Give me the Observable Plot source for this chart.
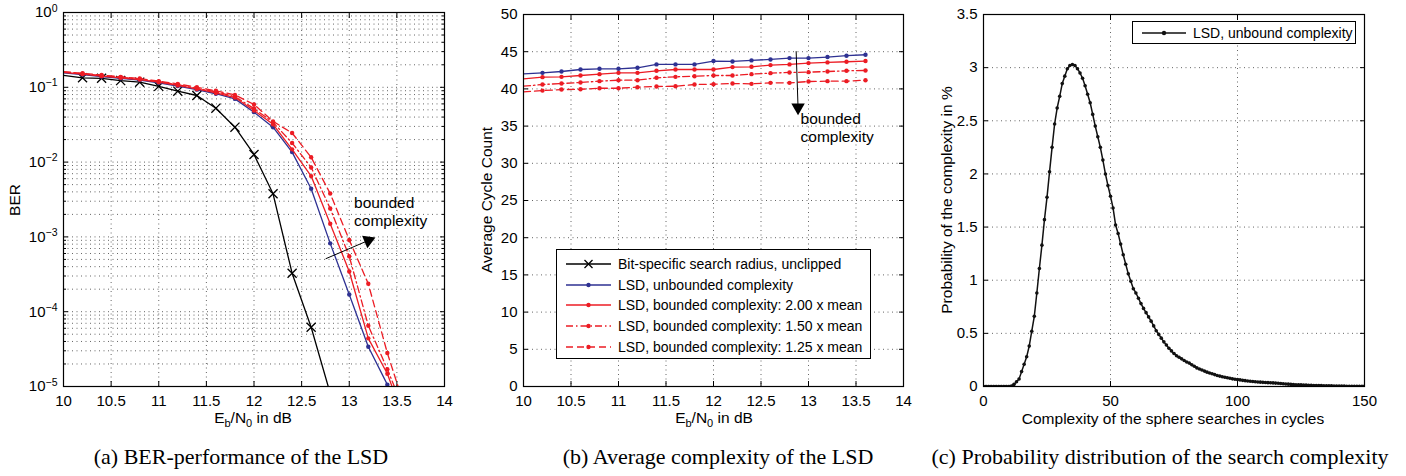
<!DOCTYPE html>
<html><head><meta charset="utf-8">
<script src="https://cdn.jsdelivr.net/npm/d3@7"></script>
<script src="https://cdn.jsdelivr.net/npm/@observablehq/plot@0.6"></script>
<style>
body{margin:0;background:#fff;}
#root{position:relative;width:1406px;height:476px;overflow:hidden;font-family:"Liberation Sans",Arial,sans-serif;color:#000;}
#root svg.plot{position:absolute;top:0;}
.cap{position:absolute;top:445px;font-family:"Liberation Serif","Times New Roman",serif;font-size:22px;line-height:22px;white-space:nowrap;transform:translateX(-50%);}
.lab{position:absolute;font-size:15.5px;line-height:18px;white-space:nowrap;transform:translate(-50%,-50%);}
.ylab{transform:translate(-50%,-50%) rotate(-90deg);}
.lab sub{font-size:11px;vertical-align:-4px;line-height:0;}
.legend{position:absolute;background:#fff;border:1px solid #000;box-sizing:border-box;font-size:14px;}
.legend .row{position:absolute;left:0;height:20px;display:flex;align-items:center;white-space:nowrap;}
.legend .row span{margin-left:7px;}
</style></head><body><div id="root"></div>
<script>
// ---------------- data ----------------
const ebn0 = [10.0,10.2,10.4,10.6,10.8,11.0,11.2,11.4,11.6,11.8,12.0,12.2,12.4,12.6,12.8,13.0,13.2,13.4,13.6];
const seriesNames = [
  "Bit-specific search radius, unclipped",
  "LSD, unbounded complexity",
  "LSD, bounded complexity: 2.00 x mean",
  "LSD, bounded complexity: 1.50 x mean",
  "LSD, bounded complexity: 1.25 x mean"
];
// (a) BER
const berBitSpecific = [0.144,0.134,0.132,0.123,0.117,0.103,0.0887,0.0777,0.0526,0.0293,0.01264,0.00377,3.27e-4,6.2e-5,8.1e-6];
const berUnbounded = [0.156,0.148,0.139,0.132,0.125,0.115,0.104,0.093,0.082,0.070,0.0465,0.0293,0.0136,0.0044,8.2e-4,1.7e-4,3.4e-5,1.06e-5,2.4e-6];
const ber200 = [0.158,0.150,0.141,0.134,0.127,0.117,0.106,0.095,0.084,0.073,0.049,0.032,0.0148,0.0065,0.0015,3.45e-4,4.4e-5,1.48e-5,3e-6];
const ber150 = [0.160,0.152,0.143,0.136,0.129,0.119,0.108,0.097,0.087,0.075,0.052,0.034,0.018,0.0085,0.0024,5.5e-4,6.5e-5,1.7e-5,4e-6];
const ber125 = [0.162,0.154,0.146,0.138,0.131,0.121,0.111,0.100,0.090,0.079,0.059,0.035,0.0245,0.0116,0.0038,9.1e-4,2.36e-4,2.8e-5,4.5e-6];
// (b) average cycle count
const cycUnbounded = [42.03,42.16,42.34,42.61,42.70,42.70,42.84,43.29,43.29,43.29,43.74,43.69,43.83,43.96,44.14,44.14,44.28,44.46,44.59];
const cyc200 = [41.35,41.58,41.62,41.80,41.98,42.16,42.16,42.43,42.61,42.61,42.61,42.93,42.97,43.20,43.29,43.47,43.56,43.65,43.74];
const cyc150 = [40.36,40.59,40.72,40.86,41.04,41.17,41.17,41.49,41.62,41.71,41.80,41.80,41.98,42.12,42.21,42.25,42.34,42.43,42.48];
const cyc125 = [39.59,39.77,39.91,39.95,40.09,40.09,40.23,40.32,40.36,40.59,40.63,40.72,40.68,40.81,40.81,40.99,41.04,41.04,41.17];
// (c) probability distribution (complexity 0..150 cycles)
const complexity = d3.range(0, 151);
const probability = [
0,0,0,0,0,0,0,0,0,0,
0,0.005,0.02,0.045,0.07,0.14,0.21,0.28,0.38,0.52,
0.66,0.88,1.11,1.33,1.57,1.78,2.02,2.25,2.47,2.62,
2.73,2.85,2.92,2.99,3.02,3.03,3.02,2.99,2.95,2.90,
2.83,2.75,2.67,2.56,2.45,2.35,2.25,2.13,2.00,1.89,
1.79,1.68,1.52,1.44,1.34,1.24,1.15,1.06,0.99,0.92,
0.88,0.83,0.78,0.735,0.695,0.655,0.615,0.57,0.525,0.49,
0.455,0.42,0.39,0.36,0.335,0.31,0.29,0.275,0.26,0.245,
0.23,0.22,0.205,0.19,0.175,0.165,0.155,0.145,0.135,0.127,
0.12,0.112,0.104,0.098,0.092,0.087,0.082,0.077,0.072,0.068,
0.065,0.062,0.058,0.055,0.052,0.049,0.047,0.045,0.043,0.041,
0.039,0.037,0.036,0.035,0.034,0.032,0.030,0.028,0.026,0.024,
0.022,0.020,0.019,0.017,0.016,0.015,0.014,0.013,0.012,0.011,
0.010,0.009,0.009,0.008,0.007,0.007,0.006,0.006,0.005,0.005,
0.004,0.004,0.004,0.003,0.003,0.003,0.003,0.002,0.002,0.002,
0.002];
// ticks
const ebn0Ticks = [10,10.5,11,11.5,12,12.5,13,13.5,14];
const berTicks = [1e-5,1e-4,1e-3,1e-2,1e-1,1];
const berMinor = d3.range(-5,0).flatMap(e => d3.range(2,10).map(m => +(m * 10 ** e).toPrecision(3)));
const cycleTicks = [0,5,10,15,20,25,30,35,40,45,50];
const complexityTicks = [0,50,100,150];
const probTicks = [0,0.5,1,1.5,2,2.5,3,3.5];
// annotations (data coordinates)
const arrowA = [{x1:12.752, y1:5.1e-4, x2:13.2, y2:8.95e-4}];
const noteA = [{x:13.05, y:2.19e-3, text:"bounded\ncomplexity"}];
const arrowB = [{x1:12.87, y1:45.07, x2:12.89, y2:37.5}];
const noteB = [{x:12.916, y:34.88, text:"bounded\ncomplexity"}];

// ---------------- styles ----------------
const BLUE = "#2e3192", RED = "#ec1c24";
const styles = [
  {stroke:"#000", dash:null, marker:"x"},
  {stroke:BLUE, dash:null, marker:"dot"},
  {stroke:RED, dash:null, marker:"dot"},
  {stroke:RED, dash:"7,3,1.5,3", marker:"dot"},
  {stroke:RED, dash:"7,4", marker:"dot"}
];
const grid = {stroke:"#666", strokeOpacity:1, strokeWidth:1, strokeDasharray:"1,3.5"};
const plotStyle = {fontFamily:'"Liberation Sans", Arial, sans-serif', fontSize:"15px", color:"#000", background:"transparent", overflow:"visible"};
const blank = () => "";

function seriesMarks(values, st, xs) {
  const marks = [Plot.line(values, {x:(d,i)=>xs[i], y:d=>d, stroke:st.stroke, strokeWidth:1.3,
    strokeDasharray: st.dash || undefined, clip:true})];
  if (st.marker === "x") {
    marks.push(Plot.dot(values, {x:(d,i)=>xs[i], y:d=>d, filter:(d,i)=>i>0, symbol:"times", r:4.2,
      stroke:st.stroke, strokeWidth:1.3, clip:true}));
  } else {
    marks.push(Plot.dot(values, {x:(d,i)=>xs[i], y:d=>d, filter:(d,i)=>i>0, r:2.2, fill:st.stroke, clip:true}));
  }
  return marks;
}
function boxAxes(xTicks, yTicks, xFmt, yFmt, extraY) {
  const m = [
    Plot.axisX({anchor:"bottom", ticks:xTicks, tickSize:-5, tickPadding:14, tickFormat:xFmt, label:null}),
    Plot.axisX({anchor:"top", ticks:xTicks, tickSize:-5, tickFormat:blank, label:null}),
    Plot.axisY({anchor:"left", ticks:yTicks, tickSize:-5, tickPadding:11, tickFormat:yFmt, label:null}),
    Plot.axisY({anchor:"right", ticks:yTicks, tickSize:-5, tickFormat:blank, label:null})
  ];
  if (extraY) {
    m.push(Plot.axisY({anchor:"left", ticks:extraY, tickSize:-3, tickFormat:blank, label:null}));
    m.push(Plot.axisY({anchor:"right", ticks:extraY, tickSize:-3, tickFormat:blank, label:null}));
  }
  return m;
}

const root = document.getElementById("root");
const ns = "http://www.w3.org/2000/svg";

// ---------------- (a) ----------------
const plotA = Plot.plot({
  width:460, height:430, marginLeft:63, marginRight:16, marginTop:12, marginBottom:44,
  x:{type:"linear", domain:[10,14]},
  y:{type:"log", domain:[1e-5,1]},
  style:plotStyle,
  marks:[
    Plot.gridX(ebn0Ticks.slice(1,-1), grid),
    Plot.gridY([...berTicks.slice(1,-1), ...berMinor], grid),
    ...boxAxes(ebn0Ticks, berTicks, d=>String(d), d=>"10^" + Math.round(Math.log10(d)), berMinor),
    ...seriesMarks(berBitSpecific, styles[0], ebn0),
    ...seriesMarks(berUnbounded, styles[1], ebn0),
    ...seriesMarks(ber200, styles[2], ebn0),
    ...seriesMarks(ber150, styles[3], ebn0),
    ...seriesMarks(ber125, styles[4], ebn0),
    Plot.link(arrowA, {x1:"x1", y1:"y1", x2:"x2", y2:"y2", stroke:"#000", strokeWidth:1}),
    Plot.dot(arrowA, {x:"x2", y:"y2", symbol:"triangle", r:5, fill:"#000", rotate:67}),
    Plot.text(noteA, {x:"x", y:"y", text:"text", textAnchor:"start", lineHeight:1.15, fontSize:15.5}),
    Plot.frame({stroke:"#000", strokeWidth:1.2})
  ]
});
plotA.classList.add("plot");
plotA.style.left = "0px";
plotA.querySelectorAll('g[aria-label="y-axis tick label"] text').forEach(t => {
  const s = t.textContent;
  if (!s.includes("^")) return;
  const [base, exp] = s.split("^");
  t.textContent = "";
  const a = document.createElementNS(ns, "tspan"); a.textContent = base; t.appendChild(a);
  const b = document.createElementNS(ns, "tspan"); b.textContent = exp.replace("-", "\u2212");
  b.setAttribute("dy", "-0.55em"); b.setAttribute("font-size", "10.5px"); t.appendChild(b);
});
root.appendChild(plotA);

// ---------------- (b) ----------------
const plotB = Plot.plot({
  width:450, height:430, marginLeft:53, marginRight:17, marginTop:14, marginBottom:44,
  x:{domain:[10,14]},
  y:{domain:[0,50]},
  style:plotStyle,
  marks:[
    Plot.gridX(ebn0Ticks.slice(1,-1), grid),
    Plot.gridY(cycleTicks.slice(1,-1), grid),
    ...boxAxes(ebn0Ticks, cycleTicks, d=>String(d), d=>String(d)),
    ...seriesMarks(cycUnbounded, styles[1], ebn0),
    ...seriesMarks(cyc200, styles[2], ebn0),
    ...seriesMarks(cyc150, styles[3], ebn0),
    ...seriesMarks(cyc125, styles[4], ebn0),
    Plot.link(arrowB, {x1:"x1", y1:"y1", x2:"x2", y2:"y2", stroke:"#000", strokeWidth:1}),
    Plot.dot(arrowB, {x:"x2", y:"y2", symbol:"triangle", r:5, fill:"#000", rotate:180}),
    Plot.text(noteB, {x:"x", y:"y", text:"text", textAnchor:"start", lineHeight:1.15, fontSize:15.5}),
    Plot.frame({stroke:"#000", strokeWidth:1.2})
  ]
});
plotB.classList.add("plot");
plotB.style.left = "470px";
root.appendChild(plotB);

// ---------------- (c) ----------------
const plotC = Plot.plot({
  width:476, height:430, marginLeft:53, marginRight:42, marginTop:14, marginBottom:44,
  x:{domain:[0,150]},
  y:{domain:[0,3.5]},
  style:plotStyle,
  marks:[
    Plot.gridX(complexityTicks.slice(1,-1), grid),
    Plot.gridY(probTicks.slice(1,-1), grid),
    ...boxAxes(complexityTicks, probTicks, d=>String(d), d=>String(d)),
    Plot.line(probability, {x:(d,i)=>complexity[i], y:d=>d, stroke:"#111", strokeWidth:1.5, clip:true}),
    Plot.dot(probability, {x:(d,i)=>complexity[i], y:d=>d, r:1.8, fill:"#111", clip:true}),
    Plot.frame({stroke:"#000", strokeWidth:1.2})
  ]
});
plotC.classList.add("plot");
plotC.style.left = "930px";
root.appendChild(plotC);

// ---------------- labels, legends, captions ----------------
function addDiv(cls, html, left, top) {
  const d = document.createElement("div");
  d.className = cls; d.innerHTML = html;
  d.style.left = left + "px"; d.style.top = top + "px";
  root.appendChild(d); return d;
}
addDiv("lab ylab", "BER", 15, 200);
addDiv("lab", "E<sub>b</sub>/N<sub>0</sub> in dB", 253, 418);
addDiv("lab ylab", "Average Cycle Count", 487, 200);
addDiv("lab", "E<sub>b</sub>/N<sub>0</sub> in dB", 714, 418);
addDiv("lab ylab", "Probability of the complexity in %", 947, 200);
addDiv("lab", "Complexity of the sphere searches in cycles", 1173, 419);

addDiv("cap", "(a) BER-performance of the LSD", 241, 446);
addDiv("cap", "(b) Average complexity of the LSD", 718, 446);
addDiv("cap", "(c) Probability distribution of the search complexity", 1160, 446);

function sample(st, w) {
  const mk = st.marker === "x"
    ? `<path d="M${w/2-4},6L${w/2+4},14M${w/2-4},14L${w/2+4},6" stroke="${st.stroke}" stroke-width="1.3"/>`
    : `<circle cx="${w/2}" cy="10" r="2.2" fill="${st.stroke}"/>`;
  return `<svg width="${w}" height="20"><line x1="0" y1="10" x2="${w}" y2="10" stroke="${st.stroke}" stroke-width="1.3"${st.dash ? ` stroke-dasharray="${st.dash}"` : ""}/>${mk}</svg>`;
}
const legB = addDiv("legend", "", 556, 249);
legB.style.width = "315px"; legB.style.height = "110px";
seriesNames.forEach((name, i) => {
  const r = document.createElement("div");
  r.className = "row";
  r.style.top = (4 + i * 20.7) + "px";
  r.style.left = "9px";
  r.innerHTML = sample(styles[i], 45) + `<span>${name}</span>`;
  legB.appendChild(r);
});
const legC = addDiv("legend", "", 1132, 21);
legC.style.width = "224px"; legC.style.height = "23px";
const rc = document.createElement("div");
rc.className = "row"; rc.style.top = "0.5px"; rc.style.left = "9px";
rc.innerHTML = sample({stroke:"#111", dash:null, marker:"dot"}, 44) + `<span>LSD, unbound complexity</span>`;
legC.appendChild(rc);
</script></body></html>
